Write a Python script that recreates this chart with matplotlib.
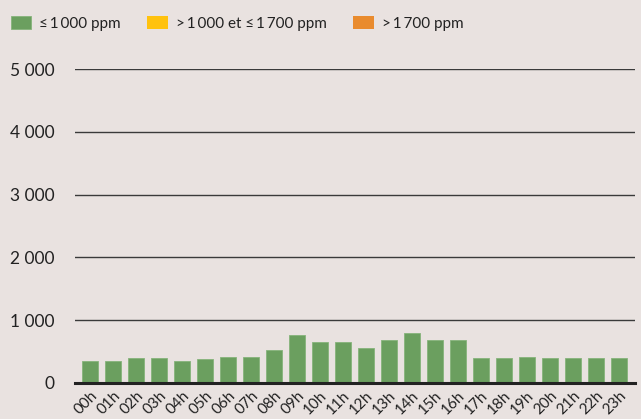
import matplotlib.pyplot as plt
import numpy as np

plt.rcParams['font.family'] = ['Lato', 'DejaVu Sans']

hours = ["%02dh" % h for h in range(24)]
low = [350, 350, 400, 400, 350, 375, 420, 420, 520, 770, 650, 650,
       550, 690, 800, 690, 690, 400, 405, 410, 405, 405, 405, 405]
mid = [0] * 24
high = [0] * 24
labels = ["≤\u20091\u2009000 ppm", ">\u20091\u2009000 et ≤\u20091\u2009700 ppm", ">\u20091\u2009700 ppm"]

bg = "#e9e2e0"
fig = plt.figure(figsize=(6.41, 4.19), dpi=100, facecolor=bg)
ax = fig.add_axes([0.117, 0.086, 0.874, 0.749], facecolor=bg)

x = np.arange(len(hours))
ax.bar(x, low, width=0.72, color="#6b9f5f", edgecolor="#86b37a", linewidth=0.6,
       label=labels[0], zorder=3)
ax.bar(x, mid, width=0.72, bottom=low, color="#ffc20e",
       label=labels[1], zorder=3)
ax.bar(x, high, width=0.72, bottom=np.add(low, mid), color="#e98b2e",
       label=labels[2], zorder=3)

ax.set_xlim(-0.65, 23.7)
ax.set_ylim(0, 5000)
ax.set_yticks([0, 1000, 2000, 3000, 4000, 5000])
ax.set_yticklabels(["0", "1 000", "2 000", "3 000", "4 000", "5 000"])
ax.yaxis.grid(True, color="#3a3a3a", linewidth=1.0, zorder=1)
ax.set_xticks(x)
ax.set_xticklabels(hours, rotation=45, ha="right", va="top", rotation_mode="anchor")
ax.tick_params(axis="both", length=0, labelsize=12.5, colors="#222222")
ax.tick_params(axis="y", pad=15)
ax.tick_params(axis="x", pad=4, labelsize=11)

for s in ["top", "right", "left"]:
    ax.spines[s].set_visible(False)
ax.spines["bottom"].set_color("#222222")
ax.spines["bottom"].set_linewidth(2.2)
ax.spines["bottom"].set_zorder(4)

leg = fig.legend(loc="upper left", bbox_to_anchor=(0.012, 0.968), ncol=3,
                 frameon=False, fontsize=11, handlelength=1.35, handleheight=0.85,
                 columnspacing=1.75, handletextpad=0.5, borderaxespad=0,
                 borderpad=0.2, labelcolor="#222222")

fig.savefig("out.png", dpi=100, facecolor=bg)
